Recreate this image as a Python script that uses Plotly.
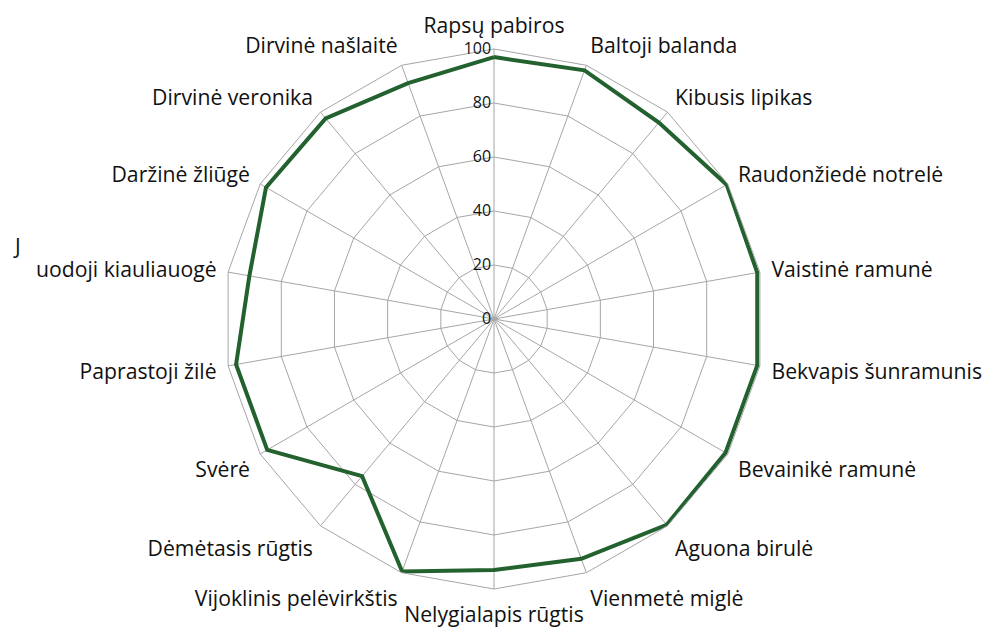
import plotly.graph_objects as go

categories = [
    "Rapsų pabiros", "Baltoji balanda", "Kibusis lipikas", "Raudonžiedė notrelė",
    "Vaistinė ramunė", "Bekvapis šunramunis", "Bevainikė ramunė", "Aguona birulė",
    "Vienmetė miglė", "Nelygialapis rūgtis", "Vijoklinis pelėvirkštis",
    "Dėmėtasis rūgtis", "Svėrė", "Paprastoji žilė", "Juodoji kiauliauogė",
    "Daržinė žliūgė", "Dirvinė veronika", "Dirvinė našlaitė",
]
tick_labels = [
    "Rapsų pabiros", "Baltoji balanda", "Kibusis lipikas", "Raudonžiedė notrelė",
    "Vaistinė ramunė", "Bekvapis šunramunis", "Bevainikė ramunė", "Aguona birulė",
    "Vienmetė miglė", "Nelygialapis rūgtis", "Vijoklinis pelėvirkštis",
    "Dėmėtasis rūgtis", "Svėrė", "Paprastoji žilė", "uodoji kiauliauogė",
    "Daržinė žliūgė", "Dirvinė veronika", "Dirvinė našlaitė",
]
values = [97, 98, 95, 99.5, 99, 99, 99, 99.5, 94.5, 93, 99.5, 76, 97, 97, 92, 97.5, 97, 93]
radial_ticks = [0, 20, 40, 60, 80, 100]
radial_tick_labels = ["0", "20", "40", "60", "80", "100"]

FONT = "Open Sans, sans-serif"

fig = go.Figure()
fig.add_trace(go.Scatterpolar(
    r=values + values[:1],
    theta=categories + categories[:1],
    mode="lines",
    line=dict(color="#23622f", width=4),
    showlegend=False,
    hoverinfo="skip",
))

W, H = 993, 631
cx, cy, R = 486, 311, 270
fig.update_layout(
    width=W, height=H,
    margin=dict(l=0, r=0, t=0, b=0),
    paper_bgcolor="white",
    plot_bgcolor="white",
    font=dict(family=FONT, color="#111111"),
    polar=dict(
        domain=dict(x=[(cx - R) / W, (cx + R) / W], y=[(H - cy - R) / H, (H - cy + R) / H]),
        gridshape="linear",
        bgcolor="white",
        angularaxis=dict(
            direction="clockwise", rotation=90,
            tickmode="array", tickvals=categories, ticktext=tick_labels,
            showline=True, linecolor="#a6a6a6", linewidth=1,
            gridcolor="#a6a6a6", gridwidth=1,
            ticks="outside", ticklen=7, tickcolor="rgba(0,0,0,0)",
            tickfont=dict(size=21.2, color="#111111", family=FONT),
        ),
        radialaxis=dict(
            range=[0, 100], tickmode="array", tickvals=radial_ticks, ticktext=radial_tick_labels,
            angle=90, side="counterclockwise", tickangle=90,
            showline=False, ticks="", gridcolor="#a6a6a6", gridwidth=1,
            tickfont=dict(size=16, color="#111111", family=FONT),
        ),
    ),
    annotations=[dict(
        text="J", xref="paper", yref="paper", x=3 / W, y=1 - 238 / H,
        xanchor="left", yanchor="middle", showarrow=False,
        font=dict(size=21.2, color="#111111", family=FONT),
    )],
)
fig.write_html("out.html")
